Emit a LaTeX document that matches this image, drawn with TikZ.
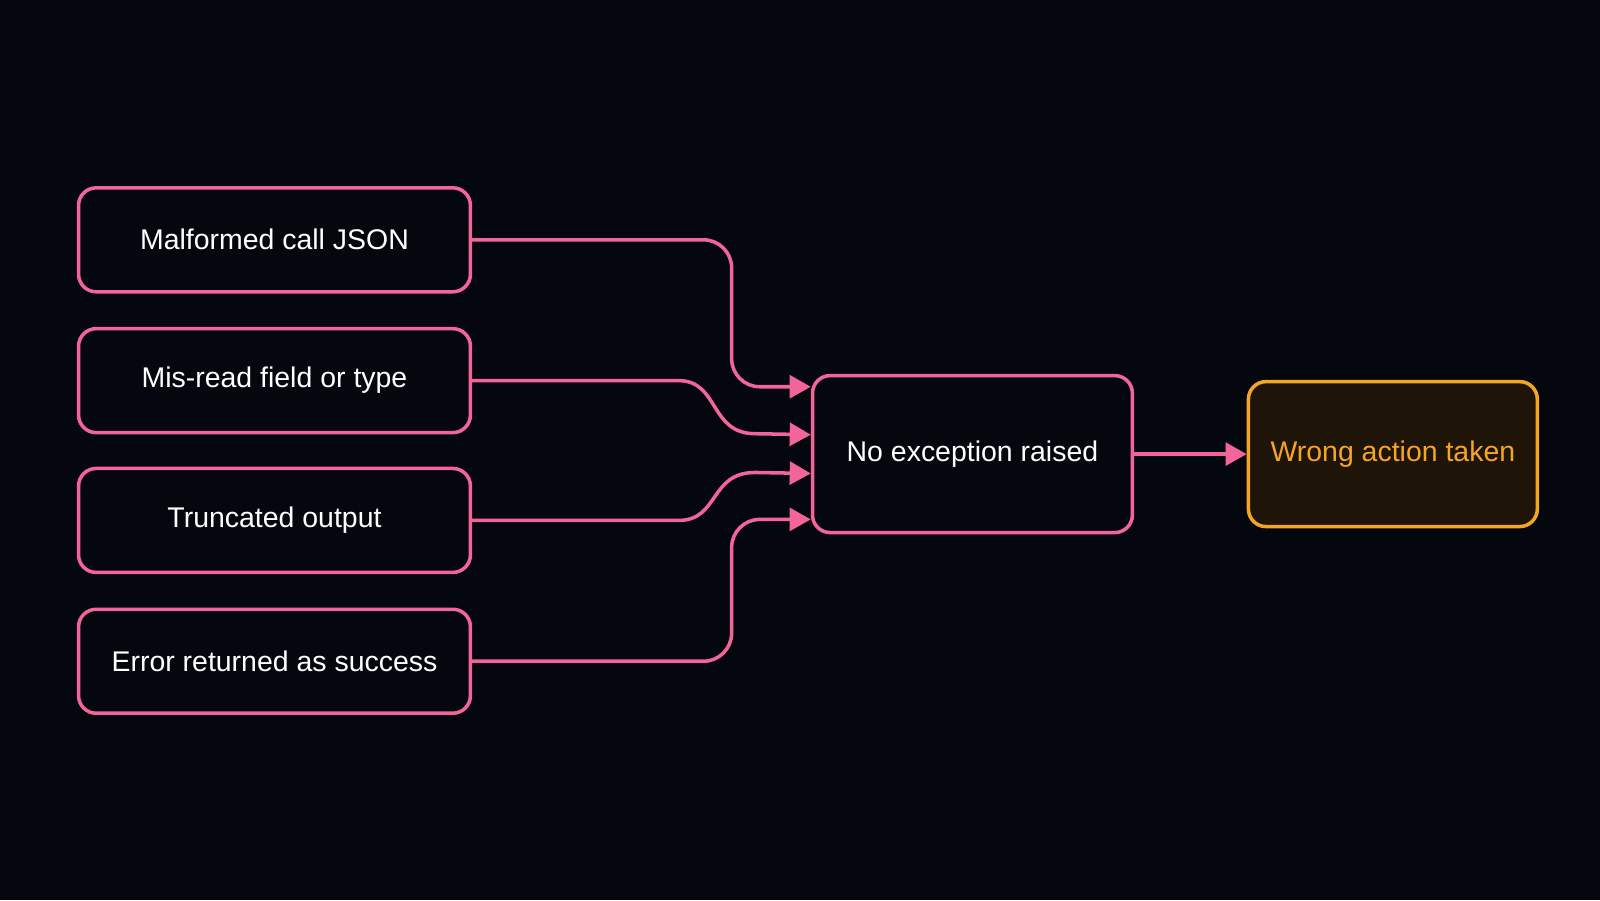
\documentclass[tikz,border=0pt]{standalone}
\usepackage{fontspec}
\setmainfont{Liberation Sans}
\usetikzlibrary{arrows.meta,positioning,calc}
\definecolor{bgdark}{HTML}{05070F}
\definecolor{pinkline}{HTML}{F2649A}
\definecolor{orangeline}{HTML}{F5A524}
\definecolor{orangefill}{HTML}{1E1408}
\tikzset{>={Triangle[length=6pt,width=6.5pt]}}
\tikzstyle{cause} = [draw=pinkline,line width=1pt,rounded corners=5pt,fill=bgdark,text=white,minimum width=3.92cm,minimum height=1.04cm,font=\fontsize{8.1}{10}\selectfont]
\tikzstyle{link} = [draw=pinkline,line width=1pt,->,rounded corners=8pt]
\tikzstyle{slink} = [draw=pinkline,line width=1pt,->,sharp corners]

\begin{document}
\begin{tikzpicture}[x=0.010204cm,y=-0.010204cm]
    \fill [bgdark] (0,0) rectangle (1568,882);
    \useasboundingbox (0,0) rectangle (1568,882);

    \node [cause] (json) at (269,235) {Malformed call JSON};
    \node [cause] (field) at (269,373) {Mis-read field or type};
    \node [cause] (trunc) at (269,510) {Truncated output};
    \node [cause] (err) at (269,648) {Error returned as success};
    \node [cause,minimum width=3.2cm,minimum height=1.57cm] (noexc) at (953,445) {No exception raised};
    \node [cause,draw=orangeline,fill=orangefill,text=orangeline,minimum width=2.89cm,minimum height=1.45cm] (wrong) at (1365,445) {Wrong action taken};

    \coordinate (in1) at ($(noexc.west)+(0,-66)$);
    \coordinate (in2) at ($(noexc.west)+(0,-19)$);
    \coordinate (in3) at ($(noexc.west)+(0,19)$);
    \coordinate (in4) at ($(noexc.west)+(0,64)$);

    \draw [link] (json.east) -| (717,379) -- (in1);
    \draw [slink] (field.east) -- (665,373) .. controls (705,373) and (695,425) .. (740,425) -- (in2);
    \draw [slink] (trunc.east) -- (665,510) .. controls (705,510) and (695,463) .. (740,463) -- (in3);
    \draw [link] (err.east) -| (717,509) -- (in4);
    \draw [link] (noexc.east) -- (wrong.west);
\end{tikzpicture}
\end{document}
